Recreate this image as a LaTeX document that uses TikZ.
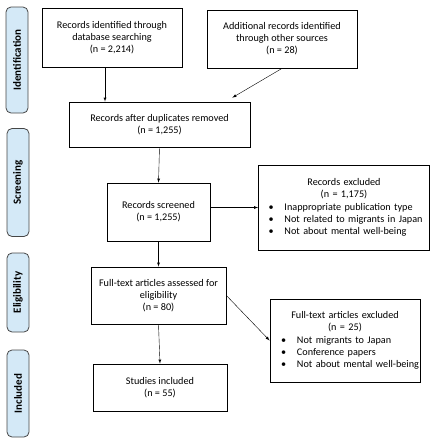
\documentclass[tikz,border=0pt]{standalone}
\usepackage{fontspec}
\setmainfont{Carlito}
\definecolor{stagefill}{RGB}{212,233,247}
\definecolor{stageline}{RGB}{70,70,70}
\newcommand{\bul}[1]{\mbox{\makebox[16pt][l]{\textbullet}#1}}

\begin{document}
\begin{tikzpicture}[x=1pt,y=-1pt,
  box/.style={draw, thick, align=center, inner sep=3pt, font=\fontsize{10.2}{12}\selectfont},
  listbox/.style={draw, thick, align=left, inner xsep=10pt, font=\fontsize{10.2}{12.4}\selectfont},
  stage/.style={draw=stageline, thick, fill=stagefill, rounded corners=5pt, rotate=90,
    minimum height=22pt, font=\fontsize{11}{12}\selectfont\bfseries},
  arr/.style={-latex, thin}]
\useasboundingbox (0,0) rectangle (430,440);

% stages on the left
\node[stage, minimum width=106pt] (sident) at (17,60) {Identification};
\node[stage, minimum width=108pt] (sscreen) at (18,182.5) {Screening};
\node[stage, minimum width=79pt] (selig) at (18,292.5) {Eligibility};
\node[stage, minimum width=87pt] (sincl) at (18,393.5) {Included};

% boxes
\node[box, minimum width=140pt, minimum height=59pt] (db) at (112,37.5)
  {Records identified through\\database searching\\(n = 2,214)};
\node[box, minimum width=150pt, minimum height=58pt] (other) at (282,39)
  {Additional records identified\\through other sources\\(n = 28)};
\node[box, minimum width=181pt, minimum height=45pt] (dup) at (159.5,124.5)
  {Records after duplicates removed\\(n = 1,255)};
\node[box, minimum width=103pt, minimum height=58pt] (screen) at (158.5,212)
  {Records screened\\(n = 1,255)};
\node[listbox, text width=151pt, minimum height=85pt] (excl) at (344,207.5)
  {{\centering Records excluded\\(n = 1,175)\par}
   \bul{Inappropriate publication type}\\
   \bul{Not related to migrants in Japan}\\
   \bul{Not about mental well-being}};
\node[box, minimum width=135pt, minimum height=57pt] (full) at (158.5,295.5)
  {Full-text articles assessed for\\eligibility\\(n = 80)};
\node[listbox, inner xsep=11pt, text width=128pt, minimum height=83pt] (fexcl) at (345,340.5)
  {{\centering Full-text articles excluded\\(n = 25)\par}
   \bul{Not migrants to Japan}\\
   \bul{Conference papers}\\
   \bul{Not about mental well-being}};
\node[box, minimum width=134pt, minimum height=47pt] (incl) at (160,387.5)
  {Studies included\\(n = 55)};

% arrows
\draw[arr] ([xshift=-7pt]db.south) -- ([xshift=-7pt]db.south |- dup.north);
\draw[arr] (other.south) -- ([xshift=-18pt,yshift=4pt]dup.north east);
\draw[arr] (dup.south) -- (screen.north);
\draw[arr] (screen.east |- excl.west) -- (excl.west);
\draw[arr] (screen.south) -- (full.north);
\draw[arr] (full.east) -- (fexcl.west);
\draw[arr] (full.south) -- (incl.north);
\end{tikzpicture}
\end{document}
